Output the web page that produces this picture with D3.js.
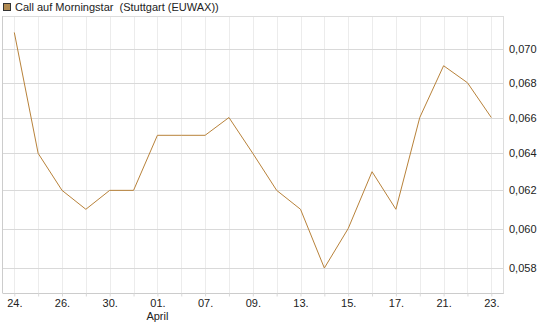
<!DOCTYPE html>
<html><head><meta charset="utf-8">
<script src="https://cdn.jsdelivr.net/npm/d3@7"></script>
<style>body{margin:0;background:#fff}svg{display:block;font-family:"Liberation Sans",Arial,sans-serif}text{white-space:pre}</style>
</head><body><svg id="c" width="545" height="327"></svg>
<script>
const categories = ["24.","25.","26.","27.","30.","31.","01.","02.","07.","08.","09.","10.","13.","14.","15.","16.","17.","20.","21.","22.","23."];
const values = [0.071,0.064,0.062,0.061,0.062,0.062,0.065,0.065,0.065,0.066,0.064,0.062,0.061,0.058,0.060,0.063,0.061,0.066,0.069,0.068,0.066];
const yTicks = [0.058,0.060,0.062,0.064,0.066,0.068,0.070];
const xLabelIdx = [0,2,4,6,8,10,12,14,16,18,20];
const seriesName = "Call auf Morningstar  (Stuttgart (EUWAX))";

const svg = d3.select("#c");
const L = 3, R = 503, T = 16, B = 293;
const x = d3.scalePoint().domain(categories).range([14.3, 491.3]);
const y = d3.scaleLog().domain([0.05677, 0.07201]).range([B, T]);

// vertical gridlines
svg.append("g").selectAll("line").data(categories).join("line")
  .attr("x1", d => Math.round(x(d)) + 0.5).attr("x2", d => Math.round(x(d)) + 0.5)
  .attr("y1", T).attr("y2", B).attr("stroke", "#ececec");
// horizontal gridlines
svg.append("g").selectAll("line").data(yTicks).join("line")
  .attr("x1", L).attr("x2", R)
  .attr("y1", d => Math.round(y(d)) + 0.5).attr("y2", d => Math.round(y(d)) + 0.5)
  .attr("stroke", "#d9d9d9");
// frame
svg.append("line").attr("x1", L).attr("x2", R).attr("y1", T + 0.5).attr("y2", T + 0.5).attr("stroke", "#dcdcdc");
svg.append("line").attr("x1", L - 0.5).attr("x2", L - 0.5).attr("y1", T).attr("y2", B).attr("stroke", "#cccccc");
svg.append("line").attr("x1", R + 0.5).attr("x2", R + 0.5).attr("y1", T).attr("y2", B + 1).attr("stroke", "#dcdcdc");

// x axis
const xAxis = d3.axisBottom(x).tickSize(3).tickFormat((d, i) => xLabelIdx.includes(i) ? d : "");
const gx = svg.append("g").attr("transform", `translate(0,${B + 0.5})`).call(xAxis);
gx.select(".domain").attr("stroke", "#cccccc").attr("d", `M${L - 0.5},0H${R + 0.5}`);
gx.selectAll(".tick line").attr("stroke", "#d9d9d9");
gx.selectAll(".tick text").attr("font-size", 11).attr("fill", "#222")
  .attr("font-family", "Liberation Sans, Arial, sans-serif");
gx.selectAll(".tick").filter((d, i) => !xLabelIdx.includes(i)).select("text").remove();
svg.append("text").attr("x", x("01.")).attr("y", 320).attr("text-anchor", "middle")
  .attr("font-size", 11).attr("fill", "#222").text("April");

// y axis (right)
const yAxis = d3.axisRight(y).tickValues(yTicks).tickSize(0).tickPadding(6)
  .tickFormat(d => d3.format(".3f")(d).replace(".", ","));
const gy = svg.append("g").attr("transform", `translate(${R},0)`).call(yAxis);
gy.select(".domain").remove();
gy.selectAll(".tick text").attr("font-size", 11).attr("fill", "#222")
  .attr("font-family", "Liberation Sans, Arial, sans-serif");

// line
svg.append("path").datum(values)
  .attr("fill", "none").attr("stroke", "#b8823a").attr("stroke-width", 1)
  .attr("d", d3.line().x((d, i) => x(categories[i])).y(d => y(d)));

// legend
svg.append("rect").attr("x", 3.5).attr("y", 3.5).attr("width", 7).attr("height", 7)
  .attr("fill", "#b08a52").attr("stroke", "#333").attr("stroke-width", 1);
svg.append("text").attr("x", 15).attr("y", 11).attr("font-size", 11).attr("fill", "#222")
  .attr("xml:space", "preserve").text(seriesName);
</script></body></html>
